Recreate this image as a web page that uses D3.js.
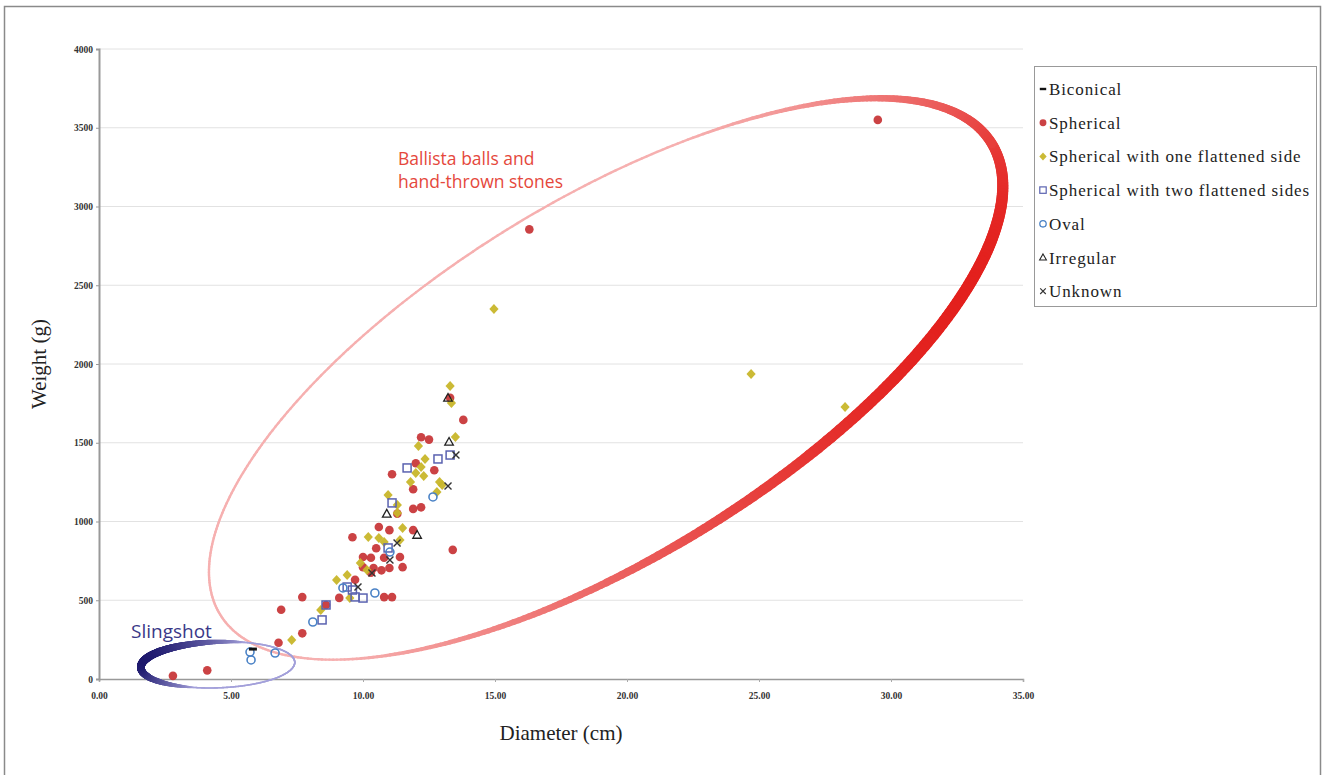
<!DOCTYPE html>
<html>
<head>
<meta charset="utf-8">
<script src="https://cdn.jsdelivr.net/npm/d3@7"></script>
<style>
  body { margin: 0; background: #fff; }
  svg { display: block; }
  .tick-label { font: bold 9.5px "Liberation Serif", serif; fill: #333; }
  .axis-title { font: 21px "Liberation Serif", serif; fill: #222; }
  .legend-label { font: 17px "Liberation Serif", serif; fill: #222; letter-spacing: 0.9px; }
  .note { font: 17.5px "Open Sans", "Liberation Sans", sans-serif; }
</style>
</head>
<body>
<svg id="chart" width="1326" height="775"></svg>
<script>
// values: [diameter cm, weight g]
const diameterTicks = [0, 5, 10, 15, 20, 25, 30, 35];
const weightTicks = [0, 500, 1000, 1500, 2000, 2500, 3000, 3500, 4000];

const biconical = [[5.83, 190]];

const spherical = [
  [2.8, 20], [4.1, 55], [6.8, 230], [7.7, 290], [6.9, 440], [7.7, 520], [8.6, 470],
  [9.1, 515], [10.8, 520], [11.1, 520], [9.7, 630], [9.6, 900], [10.0, 775], [10.3, 770],
  [10.8, 770], [11.4, 775], [10.0, 710], [10.4, 705], [10.7, 690], [11.0, 705], [11.5, 710],
  [10.3, 675], [10.5, 830], [10.6, 965], [11.0, 945], [11.9, 1080], [12.2, 1090], [11.3, 1050],
  [11.9, 945], [11.9, 1205], [11.1, 1300], [12.0, 1370], [12.7, 1325], [12.2, 1535], [12.5, 1520],
  [13.8, 1645], [13.4, 820], [16.3, 2855], [29.5, 3550], [13.3, 1785]
];

const oneFlat = [
  [7.3, 248], [8.4, 438], [9.0, 629], [9.4, 660], [9.5, 514], [10.2, 902], [10.6, 895],
  [10.8, 870], [11.4, 883], [11.5, 959], [11.3, 1054], [10.95, 1168], [11.3, 1105], [11.8, 1251],
  [12.8, 1187], [13.0, 1232], [12.3, 1289], [12.35, 1397], [12.1, 1480], [12.0, 1308], [12.2, 1346],
  [12.9, 1251], [13.5, 1537], [13.3, 1861], [13.35, 1753], [14.96, 2350], [24.7, 1937], [28.26, 1727],
  [9.9, 737], [10.15, 692]
];

const twoFlat = [
  [8.45, 375], [8.6, 470], [9.7, 521], [10.0, 514], [9.4, 584], [9.6, 565], [10.95, 832],
  [11.1, 1118], [11.67, 1340], [12.84, 1397], [13.3, 1422]
];

const oval = [
  [5.72, 171], [5.76, 121], [6.67, 165], [8.1, 362], [9.24, 578], [10.45, 546], [11.02, 806], [12.65, 1156]
];

const irregular = [[10.9, 1048], [12.05, 914], [13.26, 1505], [13.22, 1784]];

const unknown = [[13.52, 1422], [13.22, 1226], [11.29, 864], [11.02, 756], [9.81, 584], [10.34, 673]];

const legendLabels = [
  'Biconical', 'Spherical', 'Spherical with one flattened side', 'Spherical with two flattened sides',
  'Oval', 'Irregular', 'Unknown'
];

const svg = d3.select('#chart');

const x = d3.scaleLinear().domain([0, 35]).range([99, 1023]);
const y = d3.scaleLinear().domain([0, 4000]).range([679, 49]);

// outer frame
svg.append('rect')
  .attr('x', 4.5).attr('y', 6.5).attr('width', 1316).attr('height', 790)
  .attr('fill', 'none').attr('stroke', '#8a8a8a').attr('stroke-width', 1.5);

// grid
svg.append('g')
  .selectAll('line')
  .data(weightTicks.filter(d => d > 0))
  .join('line')
  .attr('x1', x(0)).attr('x2', x(35))
  .attr('y1', d => y(d)).attr('y2', d => y(d))
  .attr('stroke', '#e2e2e2').attr('stroke-width', 1);

// axes
const xAxis = svg.append('g')
  .attr('transform', `translate(0, ${y(0)})`)
  .call(d3.axisBottom(x).tickValues(diameterTicks).tickSize(3).tickFormat(d => d.toFixed(2)));
xAxis.select('.domain').attr('stroke', '#999').attr('stroke-width', 1.5);
xAxis.selectAll('.tick line').attr('stroke', '#aaa');
xAxis.selectAll('.tick text').attr('class', 'tick-label').attr('dy', '1.5em');

const yAxis = svg.append('g')
  .attr('transform', `translate(${x(0)}, 0)`)
  .call(d3.axisLeft(y).tickValues(weightTicks).tickSize(3).tickFormat(d3.format('d')));
yAxis.select('.domain').attr('stroke', '#999').attr('stroke-width', 2);
yAxis.selectAll('.tick line').attr('stroke', '#999');
yAxis.selectAll('.tick text').attr('class', 'tick-label').attr('x', -6);

svg.append('text')
  .attr('class', 'axis-title')
  .attr('text-anchor', 'middle')
  .attr('x', 561).attr('y', 740)
  .text('Diameter (cm)');

svg.append('text')
  .attr('class', 'axis-title')
  .attr('text-anchor', 'middle')
  .attr('transform', `translate(46, ${y(2000)}) rotate(-90)`)
  .text('Weight (g)');

// hand-drawn style ellipses: stroke width and colour vary round the loop
function tiltedRing(g, o) {
  const n = 480;
  const ux = Math.cos(o.angle), uy = -Math.sin(o.angle);
  const vx = Math.sin(o.angle), vy = Math.cos(o.angle);
  const pt = t => [
    o.cx + o.a * Math.cos(t) * ux + o.b * Math.sin(t) * vx,
    o.cy + o.a * Math.cos(t) * uy + o.b * Math.sin(t) * vy
  ];
  const col = d3.interpolateRgb(o.light, o.dark);
  for (let i = 0; i < n; i++) {
    const t0 = (i / n) * 2 * Math.PI;
    const t1 = ((i + 1) / n) * 2 * Math.PI;
    const k = o.weight((t0 + t1) / 2);
    const p0 = pt(t0), p1 = pt(t1);
    g.append('line')
      .attr('x1', p0[0]).attr('y1', p0[1])
      .attr('x2', p1[0]).attr('y2', p1[1])
      .attr('stroke', col(k))
      .attr('stroke-width', o.wMin + (o.wMax - o.wMin) * k)
      .attr('stroke-linecap', 'round');
  }
}

const wrap = t => Math.atan2(Math.sin(t), Math.cos(t));

const rings = svg.append('g');

tiltedRing(rings, {
  cx: x(19.2), cy: y(1905), a: 452, b: 179, angle: 31.4 * Math.PI / 180,
  light: '#f6b0b0', dark: '#e3201d', wMin: 2.4, wMax: 12,
  weight: t => Math.pow(Math.max(0, Math.cos(wrap(t - 0.7) * 0.85)), 1.2)
});

tiltedRing(rings, {
  cx: x(4.5), cy: y(90), a: 77, b: 23, angle: 2 * Math.PI / 180,
  light: '#a3a0da', dark: '#1f1a6e', wMin: 1.6, wMax: 8,
  weight: t => Math.pow(Math.max(0, Math.cos(t - Math.PI - 0.35)), 0.8)
});

svg.append('text').attr('class', 'note').attr('fill', '#e5483c')
  .attr('x', 398).attr('y', 165).text('Ballista balls and');
svg.append('text').attr('class', 'note').attr('fill', '#e5483c')
  .attr('x', 398).attr('y', 188).text('hand-thrown stones');
svg.append('text').attr('class', 'note').attr('fill', '#3a3888')
  .style('font-size', '19px')
  .attr('x', 131).attr('y', 638).text('Slingshot');

// markers
const marker = {
  bicon: g => g.append('rect').attr('x', -4).attr('y', -1.5).attr('width', 8).attr('height', 3).attr('fill', '#111'),
  sphere: g => g.append('circle').attr('r', 4.3).attr('fill', '#c8383a').attr('fill-opacity', 0.95),
  diamond: g => g.append('path').attr('d', 'M0,-5L4.6,0L0,5L-4.6,0Z').attr('fill', '#c8b62a').attr('fill-opacity', 0.95),
  square: g => g.append('rect').attr('x', -4).attr('y', -4).attr('width', 8).attr('height', 8)
    .attr('fill', 'none').attr('stroke', '#5a62b0').attr('stroke-width', 1.5),
  oval: g => g.append('circle').attr('r', 4).attr('fill', 'none').attr('stroke', '#4a82c6').attr('stroke-width', 1.6),
  tri: g => g.append('path').attr('d', 'M0,-4.5L4.3,3.2L-4.3,3.2Z').attr('fill', 'none').attr('stroke', '#222').attr('stroke-width', 1.3),
  cross: g => g.append('path').attr('d', 'M-3.5,-3.5L3.5,3.5M-3.5,3.5L3.5,-3.5').attr('stroke', '#333').attr('stroke-width', 1.4)
};

const series = [
  {data: biconical, kind: 'bicon'},
  {data: spherical, kind: 'sphere'},
  {data: oneFlat, kind: 'diamond'},
  {data: twoFlat, kind: 'square'},
  {data: oval, kind: 'oval'},
  {data: irregular, kind: 'tri'},
  {data: unknown, kind: 'cross'}
];

const plotOrder = [1, 2, 3, 4, 5, 6, 0];
plotOrder.forEach(i => {
  const s = series[i];
  svg.append('g')
    .selectAll('g')
    .data(s.data)
    .join('g')
    .attr('transform', d => `translate(${x(d[0])}, ${y(d[1])})`)
    .each(function() { marker[s.kind](d3.select(this)); });
});

// legend
const legend = svg.append('g').attr('transform', 'translate(1034, 66)');
legend.append('rect')
  .attr('x', 0.5).attr('y', 0.5).attr('width', 282).attr('height', 240)
  .attr('fill', '#fff').attr('stroke', '#999');

series.forEach((s, i) => {
  const row = legend.append('g').attr('transform', `translate(0, ${24 + i * 33.7})`);
  const m = row.append('g');
  marker[s.kind](m);
  m.attr('transform', 'translate(9, -1) scale(0.8)');
  row.append('text')
    .attr('class', 'legend-label')
    .attr('x', 15).attr('y', 5)
    .text(legendLabels[i]);
});
</script>
</body>
</html>
